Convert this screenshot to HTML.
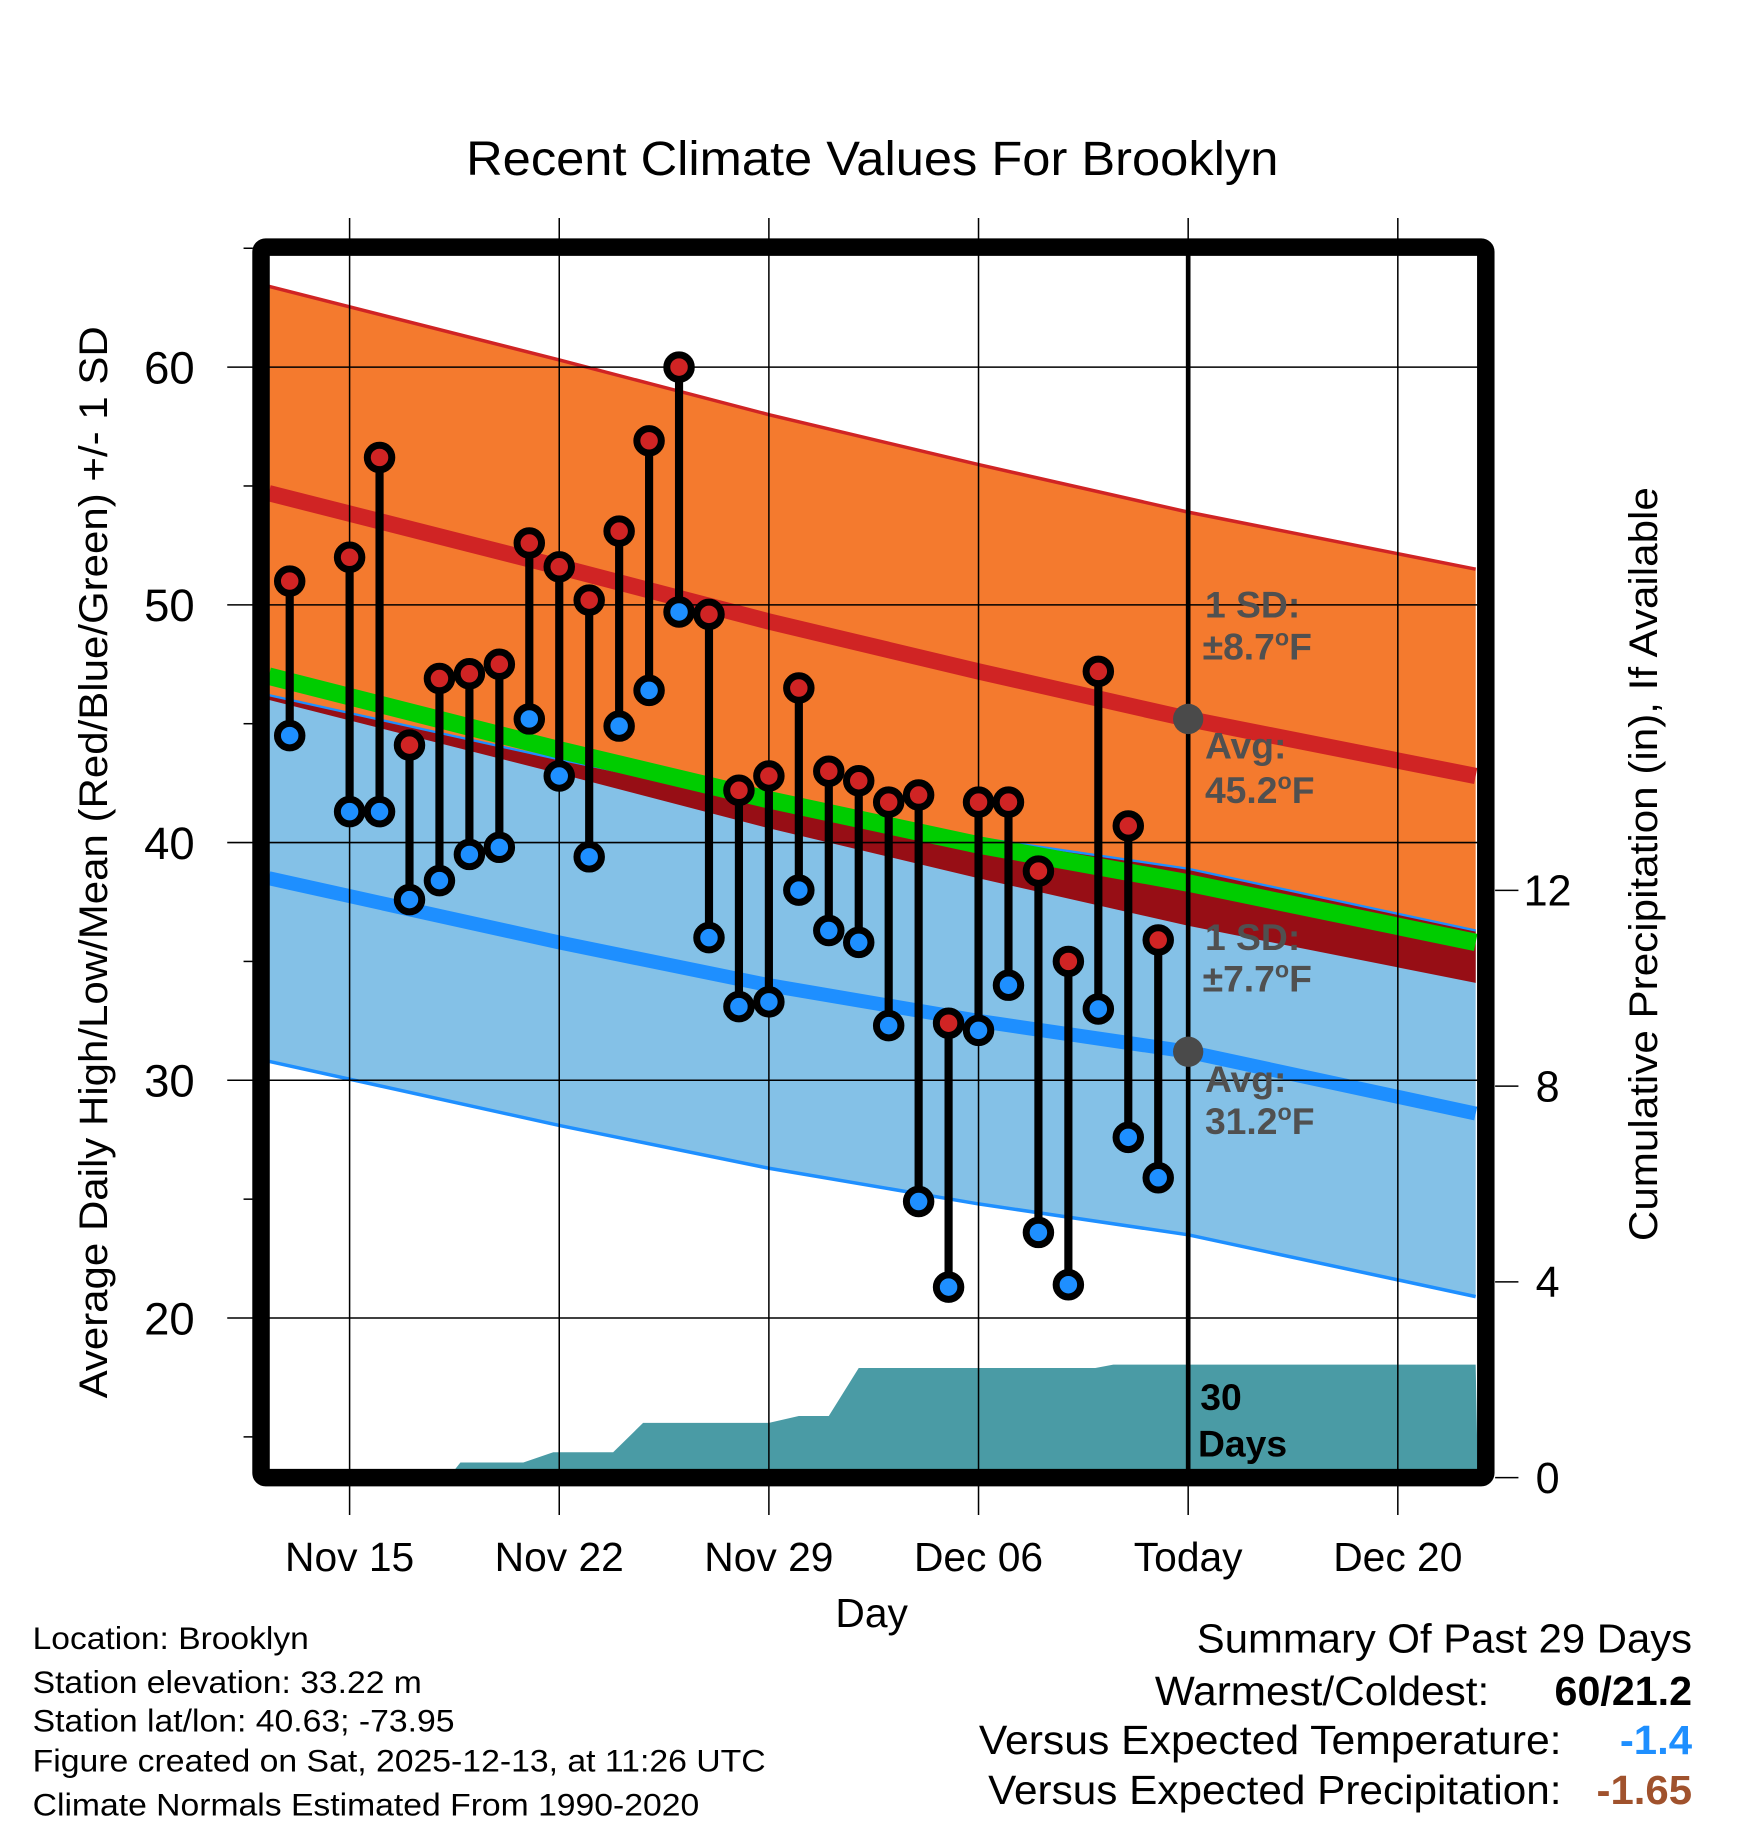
<!DOCTYPE html>
<html><head><meta charset="utf-8"><style>
html,body{margin:0;padding:0;background:#fff;}
svg{display:block;font-family:"Liberation Sans",Arial,sans-serif;}
</style></head><body>
<svg id="chart" width="1748" height="1828" viewBox="0 0 1500 1568.6" xmlns="http://www.w3.org/2000/svg">
<g id="fills"></g><g id="grid"></g><g id="marks"></g><g id="labels"></g><g id="frame"></g>
</svg>
<script>
// ---- data ----
const xTickLabels = ["Nov 15","Nov 22","Nov 29","Dec 06","Today","Dec 20"];
const xTickDays = [0,7,14,21,28,35];
const yTicks = [20,30,40,50,60];
const precipTicks = [0,4,8,12];
const obsDays = [-2,0,1,2,3,4,5,6,7,8,9,10,11,12,13,14,15,16,17,18,19,20,21,22,23,24,25,26,27];
const highs = [51.0,52.0,56.2,44.1,46.9,47.1,47.5,52.6,51.6,50.2,53.1,56.9,60.0,49.6,42.2,42.8,46.5,43.0,42.6,41.7,42.0,32.4,41.7,41.7,38.8,35.0,47.2,40.7,35.9];
const lows  = [44.5,41.3,41.3,37.6,38.4,39.5,39.8,45.2,42.8,39.4,44.9,46.4,49.7,36.0,33.1,33.3,38.0,36.3,35.8,32.3,24.9,21.3,32.1,34.0,23.6,21.4,33.0,27.6,25.9];
const normDays = [-2.7,7,14,21,28,37.6];
const normHigh = [54.7,51.6,49.3,47.2,45.2,42.8];
const normLow  = [38.5,35.8,34.0,32.5,31.2,28.6];
const normMean = [47.0,43.9,41.8,39.9,38.3,35.8];
const sdHigh = 8.7;
const sdLow = 7.7;
const precipDays = [-2.7,3.3,3.7,5.8,6.8,8.8,9.8,14.0,15.0,16.0,17.0,24.9,25.5,37.6];
const precipVals = [0,0,0.31,0.31,0.52,0.52,1.12,1.12,1.26,1.26,2.24,2.24,2.31,2.31];

// ---- axes ----
const L=231,R=1268,T=218,B=1261;
const X = d => 300 + d*25.7;
const Y = v => 315 + (60-v)*20.4;
const P = p => 1268 - p*42;
const NS="http://www.w3.org/2000/svg";
function mk(tag,attrs,parent,text){const e=document.createElementNS(NS,tag);for(const k in attrs)e.setAttribute(k,attrs[k]);if(text!==undefined)e.textContent=text;parent.appendChild(e);return e;}
const fills=document.getElementById('fills'),grid=document.getElementById('grid'),marks=document.getElementById('marks'),labels=document.getElementById('labels');
const interp=(arr,d)=>{for(let i=0;i<normDays.length-1;i++){if(d<=normDays[i+1]){const t=(d-normDays[i])/(normDays[i+1]-normDays[i]);return arr[i]+t*(arr[i+1]-arr[i]);}}return arr[arr.length-1];};
const pts=(f)=>normDays.map((d,i)=>X(d)+','+Y(f(i))).join(' ');
const ptsRev=(f)=>normDays.map((d,i)=>X(d)+','+Y(f(i))).reverse().join(' ');

let e=mk('polygon',{points:pts(i=>normHigh[i]+sdHigh)+' '+ptsRev(i=>normHigh[i]-sdHigh),fill:'#f47a2e'},fills);


e=mk('polygon',{points:pts(i=>normLow[i]+sdLow)+' '+ptsRev(i=>normLow[i]-sdLow),fill:'#84c1e7'},fills);


e=mk('polygon',{points:pts(i=>Math.max(normLow[i]+sdLow,normHigh[i]-sdHigh))+' '+ptsRev(i=>normHigh[i]-sdHigh),fill:'#970e15'},fills);


e=mk('polygon',{points:precipDays.map((d,i)=>X(d)+','+P(precipVals[i])).join(' ')+' '+R+','+B+' '+L+','+B,fill:'#4a9ba5'},fills);


const line=(f,col,w,name)=>{const l=mk('polyline',{points:pts(f),fill:'none',stroke:col,'stroke-width':w},fills);

};
line(i=>normHigh[i]+sdHigh,'#d02424',3,'high-plus-sd-line');
line(i=>normLow[i]-sdLow,'#1e8fff',3,'low-minus-sd-line');
line(i=>normLow[i]+sdLow,'#1e8fff',2,'low-plus-sd-line');
line(i=>normMean[i],'#00cc00',15,'mean-line');
line(i=>normHigh[i],'#d02424',14,'normal-high-line');
line(i=>normLow[i],'#1e8fff',12,'normal-low-line');

xTickDays.forEach((d,i)=>{mk('line',{x1:X(d),x2:X(d),y1:187,y2:1300,stroke:'#000','stroke-width':1.3},grid);
 const t=mk('text',{x:X(d),y:1348,'font-size':35,'text-anchor':'middle'},labels,xTickLabels[i]);
 
 });
yTicks.forEach(v=>{mk('line',{x1:195,x2:R,y1:Y(v),y2:Y(v),stroke:'#000','stroke-width':1.3},grid);
 const t=mk('text',{x:167,y:Y(v)+14,'font-size':39,'text-anchor':'end'},labels,String(v));
 
 });
for(let v=15;v<=65;v+=5){if(v%10)mk('line',{x1:209,x2:217,y1:Y(v),y2:Y(v),stroke:'#000','stroke-width':1.3},grid);}
precipTicks.forEach(p=>{mk('line',{x1:1283,x2:1303,y1:P(p),y2:P(p),stroke:'#000','stroke-width':1.3},grid);
 const t=mk('text',{x:1328,y:P(p)+13,'font-size':37,'text-anchor':'middle'},labels,String(p));
 
 });
e=mk('line',{x1:X(28),x2:X(28),y1:T,y2:B,stroke:'#000','stroke-width':4},grid);



obsDays.forEach((d,i)=>{
 const g=mk('g',{},marks);
 
 
 mk('line',{x1:X(d),x2:X(d),y1:Y(highs[i]),y2:Y(lows[i]),stroke:'#000','stroke-width':7},g);
 mk('circle',{cx:X(d),cy:Y(highs[i]),r:10.5,fill:'#d02424',stroke:'#000','stroke-width':6},g);
 mk('circle',{cx:X(d),cy:Y(lows[i]),r:10.5,fill:'#1e8fff',stroke:'#000','stroke-width':6},g);
});
[interp(normHigh,28),interp(normLow,28)].forEach(v=>{const c=mk('circle',{cx:X(28),cy:Y(v),r:13,fill:'#4a4a4a'},marks);

});
</script>
<svg style="position:absolute;left:0;top:0" width="1748" height="1828" viewBox="0 0 1500 1568.6" xmlns="http://www.w3.org/2000/svg" font-family="Liberation Sans, Arial, sans-serif">
<g font-weight="bold" font-size="32" fill="#505050">
<text x="1034" y="530">1 SD:</text><text x="1032" y="566">±8.7<tspan dy="-12" font-size="20">o</tspan><tspan dy="12">F</tspan></text>
<text x="1034" y="651">Avg:</text><text x="1034" y="689">45.2<tspan dy="-12" font-size="20">o</tspan><tspan dy="12">F</tspan></text>
<text x="1034" y="815">1 SD:</text><text x="1032" y="851">±7.7<tspan dy="-12" font-size="20">o</tspan><tspan dy="12">F</tspan></text>
<text x="1034" y="937">Avg:</text><text x="1034" y="973">31.2<tspan dy="-12" font-size="20">o</tspan><tspan dy="12">F</tspan></text>
</g>
<g font-weight="bold" font-size="32" fill="#000"><text x="1030" y="1210">30</text><text x="1028" y="1250">Days</text></g>
<rect x="224" y="212" width="1051" height="1056" fill="none" stroke="#000" stroke-width="15" rx="4"/>
<text x="400" y="150" font-size="41" textLength="697" lengthAdjust="spacingAndGlyphs">Recent Climate Values For Brooklyn</text>
<text transform="translate(92,1200) rotate(-90)" font-size="34" textLength="920" lengthAdjust="spacingAndGlyphs">Average Daily High/Low/Mean (Red/Blue/Green) +/- 1 SD</text>
<text transform="translate(1422,1065) rotate(-90)" font-size="34" textLength="647" lengthAdjust="spacingAndGlyphs">Cumulative Precipitation (in), If Available</text>
<text x="748" y="1396" font-size="35" text-anchor="middle">Day</text>
<g font-size="27">
<text x="28" y="1415" textLength="237" lengthAdjust="spacingAndGlyphs">Location: Brooklyn</text>
<text x="28" y="1453" textLength="334" lengthAdjust="spacingAndGlyphs">Station elevation: 33.22 m</text>
<text x="28" y="1486" textLength="362" lengthAdjust="spacingAndGlyphs">Station lat/lon: 40.63; -73.95</text>
<text x="28" y="1520" textLength="629" lengthAdjust="spacingAndGlyphs">Figure created on Sat, 2025-12-13, at 11:26 UTC</text>
<text x="28" y="1558" textLength="572" lengthAdjust="spacingAndGlyphs">Climate Normals Estimated From 1990-2020</text>
</g>
<g font-size="35">
<text x="1027" y="1418" textLength="425" lengthAdjust="spacingAndGlyphs">Summary Of Past 29 Days</text>
<text x="991" y="1463" textLength="287" lengthAdjust="spacingAndGlyphs">Warmest/Coldest:</text>
<text x="1334" y="1463" font-weight="bold" textLength="118" lengthAdjust="spacingAndGlyphs">60/21.2</text>
<text x="840" y="1505" textLength="500" lengthAdjust="spacingAndGlyphs">Versus Expected Temperature:</text>
<text x="1390" y="1505" font-weight="bold" fill="#1e8fff" textLength="62" lengthAdjust="spacingAndGlyphs">-1.4</text>
<text x="848" y="1548" textLength="492" lengthAdjust="spacingAndGlyphs">Versus Expected Precipitation:</text>
<text x="1370" y="1548" font-weight="bold" fill="#a0522d" textLength="82" lengthAdjust="spacingAndGlyphs">-1.65</text>
</g>
</svg>
</body></html>
